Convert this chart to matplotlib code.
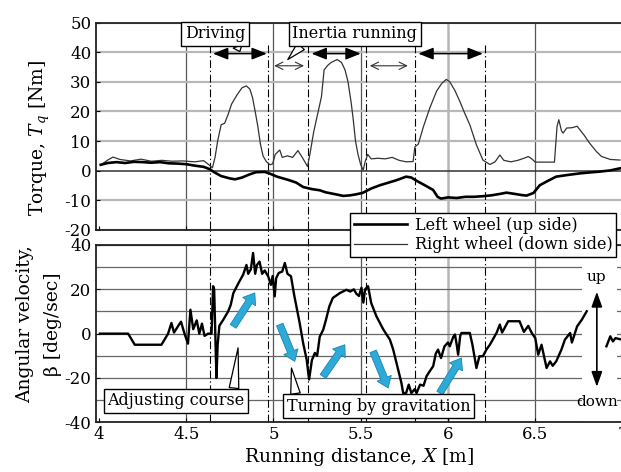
import numpy as np
import matplotlib
matplotlib.use("Agg")
import matplotlib.pyplot as plt
from matplotlib.patches import Rectangle, FancyArrowPatch
from matplotlib.lines import Line2D

plt.rcParams['font.family'] = ['DejaVu Serif']
plt.rcParams['mathtext.fontset'] = 'dejavuserif'
plt.rcParams['axes.unicode_minus'] = False

# ---------------- data ----------------
# Torque, right wheel (down side) - thin line
x_right = [4.01, 4.05, 4.08, 4.12, 4.18, 4.24, 4.30, 4.36, 4.42, 4.48, 4.55, 4.60, 4.63, 4.65,
           4.665, 4.68, 4.70, 4.72, 4.74, 4.76, 4.79, 4.82, 4.845, 4.865, 4.88, 4.895, 4.91,
           4.925, 4.94, 4.96, 4.98, 4.995, 5.01, 5.036, 5.05, 5.08, 5.11, 5.14, 5.17, 5.195,
           5.21, 5.23, 5.245, 5.26, 5.275, 5.29, 5.31, 5.33, 5.365, 5.39, 5.41, 5.427, 5.445,
           5.456, 5.47, 5.485, 5.50, 5.514, 5.525, 5.54, 5.56, 5.60, 5.64, 5.68, 5.72, 5.76,
           5.80, 5.81, 5.83, 5.86, 5.896, 5.935, 5.965, 5.99, 6.01, 6.04, 6.067, 6.095, 6.125,
           6.163, 6.20, 6.24, 6.27, 6.297, 6.32, 6.36, 6.40, 6.44, 6.46, 6.48, 6.50, 6.55,
           6.61, 6.625, 6.635, 6.65, 6.66, 6.68, 6.71, 6.74, 6.78, 6.81, 6.85, 6.88, 6.93, 6.985]
t_right = [1.9, 3.6, 4.6, 3.8, 3.3, 3.9, 3.2, 3.5, 3.2, 3.3, 3.0, 3.4, 2.0, 1.0,
           4.5, 10.0, 15.5, 16.0, 19.0, 22.5, 25.5, 28.0, 28.6, 27.5, 24.6, 20.0, 15.0,
           9.0, 5.0, 3.0, 2.0, 2.3, 5.5, 7.0, 4.5, 5.0, 4.5, 6.8, 4.0, 1.4,
           6.0, 13.0, 17.0, 21.0, 25.0, 34.0, 35.5, 36.5, 37.5, 36.5, 34.0, 30.0, 23.0,
           17.8, 10.0, 5.3, 2.0, 0.2, 3.0, 5.5, 4.0, 4.2, 4.0, 4.5, 3.5, 3.0,
           3.1, 8.0, 9.0, 15.0, 21.2, 26.9, 29.5, 30.8, 30.0, 27.0, 23.5, 19.5, 15.5,
           8.7, 3.6, 2.1, 3.0, 5.3, 3.5, 3.0, 3.5, 4.3, 4.8, 4.0, 2.9, 2.9,
           2.9, 15.0, 17.2, 13.5, 12.7, 14.4, 14.5, 15.0, 12.0, 9.4, 6.5, 4.8, 3.8, 3.6]

# Torque, left wheel (up side) - thick line
x_left = [4.01, 4.05, 4.10, 4.15, 4.20, 4.25, 4.30, 4.35, 4.40, 4.45, 4.50, 4.55, 4.60, 4.635,
          4.66, 4.70, 4.75, 4.78, 4.82, 4.86, 4.90, 4.95, 4.98, 5.02, 5.09, 5.13, 5.17, 5.22,
          5.265, 5.30, 5.36, 5.40, 5.44, 5.47, 5.51, 5.56, 5.61, 5.66, 5.705, 5.76, 5.79, 5.82,
          5.87, 5.915, 5.94, 5.96, 6.00, 6.05, 6.10, 6.15, 6.20, 6.25, 6.30, 6.335, 6.38, 6.42,
          6.45, 6.49, 6.526, 6.57, 6.62, 6.69, 6.756, 6.81, 6.87, 6.93, 6.985]
t_left = [2.0, 2.6, 2.9, 2.6, 3.0, 2.9, 2.7, 2.9, 2.5, 2.4, 2.2, 1.7, 1.3, 0.5,
          -0.5, -1.8, -2.6, -2.9, -2.3, -1.3, -0.5, -0.4, -1.0, -2.0, -3.2, -4.0, -5.5, -6.2,
          -6.6, -7.3, -8.0, -8.5, -8.3, -8.0, -7.5, -6.0, -4.9, -4.0, -3.2, -2.0, -2.3, -3.4,
          -5.0, -6.5, -8.8, -9.4, -9.0, -9.2, -8.8, -8.8, -8.6, -8.3, -7.8, -7.4, -7.8, -8.2,
          -8.4, -7.5, -4.9, -3.5, -2.0, -1.4, -0.9, -0.6, -0.3, 0.1, 0.8]

# Angular velocity beta
x_beta = [4.005, 4.167, 4.205, 4.358, 4.396, 4.415, 4.43, 4.45, 4.47, 4.49, 4.51, 4.524, 4.54,
          4.56, 4.575, 4.59, 4.605, 4.625, 4.645, 4.654, 4.66, 4.673, 4.68, 4.69, 4.71, 4.74,
          4.755, 4.77, 4.80, 4.826, 4.845, 4.855, 4.87, 4.883, 4.895, 4.905, 4.92, 4.935, 4.95,
          4.97, 4.985, 4.995, 5.007, 5.015, 5.03, 5.05, 5.065, 5.08, 5.10, 5.12, 5.15, 5.17,
          5.19, 5.204, 5.22, 5.237, 5.25, 5.265, 5.285, 5.30, 5.32, 5.34, 5.38, 5.418, 5.44,
          5.46, 5.475, 5.49, 5.504, 5.515, 5.525, 5.542, 5.56, 5.59, 5.63, 5.667, 5.686, 5.714,
          5.733, 5.743, 5.76, 5.775, 5.79, 5.81, 5.82, 5.84, 5.86, 5.877, 5.895, 5.915, 5.93,
          5.943, 5.96, 5.98, 6.00, 6.01, 6.03, 6.04, 6.05, 6.058, 6.07, 6.077, 6.125, 6.14,
          6.163, 6.18, 6.20, 6.22, 6.24, 6.278, 6.297, 6.31, 6.345, 6.41, 6.435, 6.46, 6.48,
          6.50, 6.517, 6.536, 6.565, 6.585, 6.60, 6.62, 6.65, 6.67, 6.70, 6.71, 6.74, 6.767,
          6.795, np.nan, 6.908, 6.93, 6.945, 6.96, 6.985]
b_beta = [0, 0, -5, -5, 0, 4.8, 0.5, 3, 5.4, 0, -4.5, 10.8, 2,
          6, 0, 4.5, -1, 0, 0, 21.4, 20, -20, -5, 3.6, 6, 10,
          13, 18.3, 22.9, 26.6, 31, 27, 29, 36.4, 27, 31, 32.5, 27, 28.5,
          25.8, 22, 26, 16.8, 25, 27.4, 28, 31.9, 27, 25.9, 16.8, 4.8, -4.3,
          -11.7, -20.7, -12, -8.7, -10, -1.4, 1.8, 6, 12.3, 16.1, 18.3, 19.8, 19,
          20, 18, 17, 20.7, 14, 20, 21.4, 13.8, 7.8, 1.8, -2.7, -7.2, -16.2,
          -22.2, -26.8, -26.8, -23, -26.8, -25, -26.8, -23, -23.5, -19.2, -17, -14.7, -9,
          -7.2, -11, -5.7, -4, -5.7, -1.5, -0.4, -5, -9.5, -1, 0.3, 0.3, -5,
          -15.5, -10.2, -10.2, -7.2, -5, 0.3, 4.1, 0.5, 5.6, 5.6, 0.8, 3.5, 0.3,
          -2, -9.5, -5, -15.5, -12.5, -14.5, -12.5, -7.2, -2.7, 0.3, -4, 3.3, 6.3,
          10.1, np.nan, -5.7, -1.2, -3.5, -2, -2.5]

# Phase boundaries (dash-dot lines)
phase_x = [4.635, 4.967, 5.197, 5.53, 5.81, 6.21]
# Phase arrows
driving_arrows = [(4.653, 4.962), (5.218, 5.50), (5.83, 6.20)]
inertia_arrows = [(5.004, 5.175), (5.552, 5.77)]
# Blue trend arrows in beta plot: (x0, b0, x1, b1)
blue_arrows = [(4.769, 3.3, 4.893, 18.4), (5.036, 4.1, 5.122, -12.5),
               (5.284, -19.3, 5.409, -5.0), (5.571, -8.0, 5.657, -24.5),
               (5.953, -26.8, 6.077, -11.0)]

xticks = [4, 4.5, 5, 5.5, 6, 6.5, 7]
xticklabels = ['4', '4.5', '5', '5.5', '6', '6.5', '7']
top_yticks = [50, 40, 30, 20, 10, 0, -10, -20]
bot_yticks = [40, 20, 0, -20, -40]
bot_minor = [30, 10, -10, -30]

# ---------------- figure ----------------
W, H = 621, 472
fig = plt.figure(figsize=(W / 100, H / 100), dpi=100)
ax1 = fig.add_axes([95.5 / W, 1 - 230 / H, 527 / W, 207.5 / H])
ax2 = fig.add_axes([95.5 / W, 1 - 422.3 / H, 527 / W, 177.3 / H])

XL = (3.98, 7.0)
TICKFS = 12
BOXFS = 11.5

for ax in (ax1, ax2):
    ax.set_xlim(*XL)
    ax.set_axisbelow(True)
    for s in ax.spines.values():
        s.set_linewidth(1.3)
        s.set_color('#222222')
    ax.tick_params(direction='in', length=3, width=0.8, labelsize=TICKFS, pad=3)
    ax.set_xticks(xticks)
    for xv in [4.5, 5, 5.5, 6.5]:
        ax.axvline(xv, color='#555555', lw=0.9, zorder=0.5)
    ax.axvline(6, color='#b5b5b5', lw=1.8, zorder=0.5)

# top axes
ax1.set_ylim(-20, 50)
ax1.set_yticks(top_yticks)
ax1.set_yticklabels([str(v) for v in top_yticks])
ax1.set_xticklabels([])
for yv in top_yticks:
    if yv == 0:
        ax1.axhline(yv, color='#333333', lw=1.1, zorder=0.5)
    else:
        ax1.axhline(yv, color='#b8b8b8', lw=1.6, zorder=0.5)

ax1.plot(x_right, t_right, color='#333333', lw=0.9, zorder=2)
ax1.plot(x_left, t_left, color='black', lw=1.9, zorder=2.1)

# bottom axes
ax2.set_ylim(-40, 40)
ax2.set_yticks(bot_yticks)
ax2.set_yticklabels([str(v) for v in bot_yticks])
ax2.set_yticks(bot_minor, minor=True)
ax2.tick_params(which='minor', length=0)
ax2.set_xticklabels(xticklabels)
for yv in bot_yticks + bot_minor:
    ax2.axhline(yv, color='#666666', lw=0.9, zorder=0.5)

# white area behind up/down arrow
ax2.add_patch(Rectangle((6.77, -40), 0.2, 80, fc='white', ec='none', zorder=1))
ax2.plot(x_beta, b_beta, color='black', lw=1.7, zorder=2)

# phase lines (dash-dot), spanning both panels
ls = (0, (7, 2.5, 1.2, 2.5))
for xv in phase_x:
    ax1.plot([xv, xv], [42.5, -20], color='black', lw=0.8, ls=ls, zorder=1.5)
    ax2.plot([xv, xv], [-40, 40 + 15 / 177.3 * 80], color='black', lw=0.8, ls=ls,
             zorder=1.5, clip_on=False)

# phase arrows (top)
for a, b in driving_arrows:
    ax1.annotate('', xy=(b, 39.5), xytext=(a, 39.5),
                 arrowprops=dict(arrowstyle='<|-|>,head_length=0.7,head_width=0.28',
                                 color='black', lw=1.1, shrinkA=0, shrinkB=0,
                                 mutation_scale=13), zorder=3)
for a, b in inertia_arrows:
    ax1.annotate('', xy=(b, 35.4), xytext=(a, 35.4),
                 arrowprops=dict(arrowstyle='<->,head_length=0.45,head_width=0.22',
                                 color='#333333', lw=0.8, shrinkA=0, shrinkB=0,
                                 mutation_scale=12), zorder=3)

box = dict(boxstyle='square,pad=0.22', fc='white', ec='black', lw=1.0)
def callout(ax, text, xy, xytext, relpos):
    ax.annotate(text, xy=xy, xytext=xytext, ha='center', va='center', fontsize=BOXFS,
                bbox=box, zorder=4,
                arrowprops=dict(arrowstyle='wedge,tail_width=0.6,shrink_factor=0.5',
                                fc='white', ec='black', lw=0.9, relpos=relpos,
                                shrinkA=0, shrinkB=0))

callout(ax1, 'Driving', (4.807, 40.2), (4.664, 46.2), (0.85, 0.0))
callout(ax1, 'Inertia running', (5.082, 37.5), (5.466, 46.2), (0.1, 0.0))
callout(ax2, 'Adjusting course', (4.797, -6.4), (4.441, -30.2), (0.92, 1.0))
callout(ax2, 'Turning by gravitation', (5.103, -15.5), (5.603, -32.7), (0.05, 1.0))

# blue arrows
for x0, b0, x1, b1 in blue_arrows:
    ax2.add_patch(FancyArrowPatch((x0, b0), (x1, b1),
                                  arrowstyle='simple,head_length=0.75,head_width=1.1,tail_width=0.5',
                                  mutation_scale=10, fc='#2eaad8', ec='#1b86b0', lw=0.6,
                                  shrinkA=0, shrinkB=0, zorder=3))

# up/down arrow
ax2.annotate('', xy=(6.853, 18.9), xytext=(6.853, -24),
             arrowprops=dict(arrowstyle='<|-|>,head_length=0.7,head_width=0.25',
                             color='black', lw=1.2, shrinkA=0, shrinkB=0,
                             mutation_scale=13), zorder=3)
ax2.text(6.853, 25.7, 'up', ha='center', va='center', fontsize=11, zorder=3)
ax2.text(6.853, -31, 'down', ha='center', va='center', fontsize=11, zorder=3)

# labels
ax2.set_xlabel('Running distance, $X$ [m]', fontsize=13.5, labelpad=2)
fig.text(40 / W, 1 - 137.5 / H, 'Torque, $T_q$ [Nm]', rotation=90, ha='center',
         va='center', fontsize=13.5)
fig.text(25 / W, 1 - 324.5 / H, 'Angular velocity,', rotation=90, ha='center',
         va='center', fontsize=13.5)
fig.text(53 / W, 1 - 324.5 / H, 'β [deg/sec]', rotation=90, ha='center',
         va='center', fontsize=13.5)

# legend
handles = [Line2D([], [], color='black', lw=1.9), Line2D([], [], color='#333333', lw=0.9)]
leg = fig.legend(handles, ['Left wheel (up side)', 'Right wheel (down side)'],
                 loc='upper left', bbox_to_anchor=(350 / W, 1 - 213 / H), fontsize=11.5,
                 frameon=True, fancybox=False, edgecolor='black', framealpha=1,
                 borderpad=0.25, labelspacing=0.15, handlelength=3.3, handletextpad=0.5,
                 borderaxespad=0)
leg.get_frame().set_linewidth(1.0)

fig.savefig('out.png', dpi=100)
